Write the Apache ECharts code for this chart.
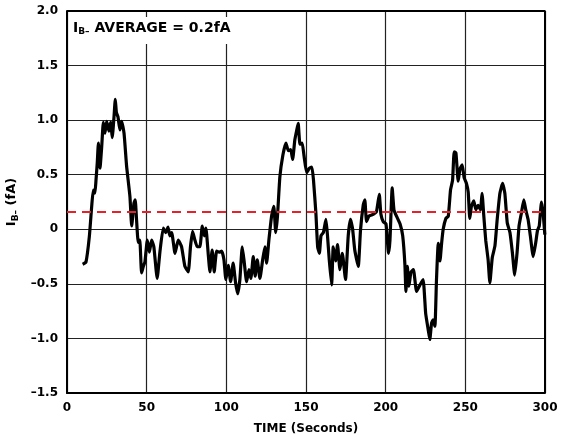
<!DOCTYPE html>
<html>
<head>
<meta charset="utf-8">
<script src="https://cdn.jsdelivr.net/npm/echarts@6/dist/echarts.min.js"></script>
<style>
  html, body { margin: 0; padding: 0; background: #fff; }
  #chart { width: 568px; height: 448px; }
</style>
</head>
<body>
<div id="chart"></div>
<script>
// time axis (seconds) and input bias current IB- (fA)
var timeSec = [
  9.8, 11.9, 14, 15.5, 16.5, 17.5, 18.2, 19, 19.7, 20.7, 21.8, 22.8, 23.8, 24.9, 26.3, 27.4, 28.4, 29.5, 30.3, 31,
  32, 33.2, 34.3, 35.8, 37.4, 39.5, 40.6, 42, 42.8, 43.6, 44.7, 45.7, 46.8, 47.9, 48.9, 50.4, 51.7, 53.1, 54.5, 56.6,
  58.3, 60.4, 62, 63.4, 64.5, 65.7, 67.8, 69.8, 71.9, 74, 76.1, 77.5, 78.8, 80.3, 81.7, 83.4, 84.9, 86.2, 87.2, 88.6,
  89.7, 91.1, 92.4, 93.9, 95.6, 97.1, 98.5, 99.7, 101.2, 102.7, 104.3, 105.8, 107.1, 108.5, 110, 111.3, 112.7, 114.2, 115.4, 116.9,
  118.1, 119.4, 121.1, 122.8, 124.2, 125.3, 126.7, 128.4, 129.8, 131, 132.1, 133.6, 135.5, 137.4, 138.9, 140.4, 141.6, 143, 144.2, 145.1,
  146.2, 147.6, 148.7, 150.4, 152.2, 153.7, 154.7, 156.2, 157.3, 158.4, 159.4, 160.9, 162.5, 163.5, 164.6, 166.1, 167.1, 168.6, 169.8, 171.3,
  172.8, 174.8, 176.5, 177.9, 179.2, 180.6, 182.8, 184.2, 185.9, 186.9, 188, 189.4, 191.1, 192.6, 194.2, 196, 197, 198.5, 200.2, 201.8,
  202.7, 204.1, 205.2, 206.8, 209, 210.7, 212.1, 212.7, 213.6, 214.6, 215.9, 217.4, 219.4, 221.5, 223.5, 225.1, 226.7, 227.7, 228.8, 229.8,
  230.9, 231.9, 233, 234.1, 235.1, 236.1, 237.8, 239.3, 240.7, 242, 243, 244.1, 245.5, 246.6, 248, 249.3, 250.7, 251.8, 252.8, 253.8,
  255.3, 256.6, 258, 259.5, 260.5, 261.6, 262.8, 264.3, 265.4, 266.9, 268.6, 270, 271.7, 273.4, 274.8, 276.3, 278, 279.5, 281, 282.5,
  283.7, 285.2, 286.7, 287.9, 289.4, 290.8, 292.6, 294.1, 295.3, 296.4, 297.8, 298.8, 299.9
];
var ibMinus = [
  -0.32, -0.30, -0.07, 0.21, 0.36, 0.33, 0.45, 0.61, 0.79, 0.56, 0.76, 0.98, 0.88, 0.99, 0.90, 0.98, 0.84, 1.03, 1.19, 1.07,
  1.03, 0.91, 0.99, 0.88, 0.58, 0.30, 0.03, 0.24, 0.27, 0.10, -0.12, -0.10, -0.40, -0.34, -0.30, -0.10, -0.21, -0.10, -0.16, -0.45,
  -0.21, 0.01, -0.03, 0.02, -0.06, -0.03, -0.22, -0.10, -0.16, -0.34, -0.39, -0.16, -0.02, -0.10, -0.16, -0.16, 0.03, -0.06, 0.01, -0.22,
  -0.39, -0.19, -0.39, -0.20, -0.21, -0.20, -0.28, -0.46, -0.33, -0.48, -0.31, -0.49, -0.59, -0.46, -0.16, -0.31, -0.48, -0.37, -0.45, -0.25,
  -0.43, -0.28, -0.45, -0.28, -0.16, -0.31, -0.10, 0.12, 0.21, -0.03, 0.12, 0.48, 0.68, 0.79, 0.72, 0.73, 0.64, 0.82, 0.91, 0.97,
  0.78, 0.79, 0.68, 0.52, 0.56, 0.57, 0.45, 0.15, -0.16, -0.22, -0.06, -0.03, 0.09, -0.06, -0.28, -0.51, -0.16, -0.29, -0.14, -0.37,
  -0.22, -0.46, -0.06, 0.09, 0.01, -0.19, -0.34, -0.01, 0.22, 0.27, 0.07, 0.12, 0.13, 0.14, 0.16, 0.32, 0.14, 0.07, 0.05, -0.22,
  -0.10, 0.38, 0.18, 0.12, 0.05, -0.06, -0.33, -0.57, -0.34, -0.52, -0.39, -0.37, -0.57, -0.51, -0.46, -0.77, -0.92, -1.01, -0.86, -0.83,
  -0.89, -0.46, -0.13, -0.29, -0.13, 0.0, 0.10, 0.12, 0.36, 0.45, 0.71, 0.70, 0.44, 0.55, 0.59, 0.47, 0.42, 0.34, 0.10, 0.21,
  0.26, 0.18, 0.22, 0.18, 0.33, 0.12, -0.10, -0.28, -0.49, -0.26, -0.15, 0.09, 0.33, 0.42, 0.33, 0.06, -0.03, -0.21, -0.42, -0.21,
  0.03, 0.15, 0.27, 0.18, 0.09, -0.06, -0.25, -0.13, -0.01, 0.03, 0.25, 0.15, -0.05
];
var averageFa = 0.16;

var fontFam = '"DejaVu Sans", "Liberation Sans", sans-serif';
var lineData = timeSec.map(function (t, i) { return [t, ibMinus[i]]; });

var subRich = function (size) {
  return {
    a: { fontFamily: fontFam, fontWeight: 'bold', fontSize: size, color: '#000' },
    b: { fontFamily: fontFam, fontWeight: 'bold', fontSize: 9, color: '#000', verticalAlign: 'bottom', padding: [7, 0, 0, 0] }
  };
};

var chart = echarts.init(document.getElementById('chart'));
chart.setOption({
  animation: false,
  grid: { left: 67, right: 23, top: 11, bottom: 55, outerBoundsMode: 'none' },
  title: {
    text: '{a|I}{b|B–}{a| AVERAGE = 0.2fA}',
    left: 70,
    top: 16,
    padding: [4, 14, 8, 3],
    backgroundColor: '#fff',
    textStyle: { rich: subRich(14) }
  },
  xAxis: {
    type: 'value',
    min: 0,
    max: 300,
    interval: 50,
    name: 'TIME (Seconds)',
    nameLocation: 'middle',
    nameGap: 30,
    nameTextStyle: { fontFamily: fontFam, fontWeight: 'bold', fontSize: 12, color: '#000' },
    axisLine: { show: true, onZero: false, lineStyle: { color: '#000', width: 2 } },
    axisTick: { show: false },
    axisLabel: { fontFamily: fontFam, fontWeight: 'bold', fontSize: 12, color: '#000', margin: 9 },
    splitLine: { show: true, lineStyle: { color: '#222', width: 1.2 } }
  },
  yAxis: {
    type: 'value',
    min: -1.5,
    max: 2,
    interval: 0.5,
    name: '{a|I}{b|B–}{a| (fA)}',
    nameLocation: 'middle',
    nameRotate: 90,
    nameGap: 44,
    nameTextStyle: { rich: subRich(13) },
    axisLine: { show: true, onZero: false, lineStyle: { color: '#000', width: 2 } },
    axisTick: { show: false },
    axisLabel: {
      fontFamily: fontFam, fontWeight: 'bold', fontSize: 12, color: '#000', margin: 9,
      formatter: function (v) {
        if (Math.abs(v) < 1e-9) return '0';
        return v.toFixed(1).replace('-', '–');
      }
    },
    splitLine: { show: true, lineStyle: { color: '#222', width: 1.2 } }
  },
  series: [
    {
      type: 'line',
      data: lineData,
      showSymbol: false,
      smooth: 0.15,
      lineStyle: { color: '#000', width: 3.2 },
      z: 3,
      markLine: {
        silent: true,
        symbol: 'none',
        label: { show: false },
        lineStyle: { color: '#e3222b', type: [9, 6], width: 2 },
        data: [{ yAxis: averageFa }]
      }
    },
    {
      // right/top frame of the plot
      type: 'line',
      data: [[300, -1.5], [300, 2], [0, 2]],
      showSymbol: false,
      lineStyle: { color: '#000', width: 2 },
      silent: true,
      z: 4
    }
  ]
});
</script>
</body>
</html>
